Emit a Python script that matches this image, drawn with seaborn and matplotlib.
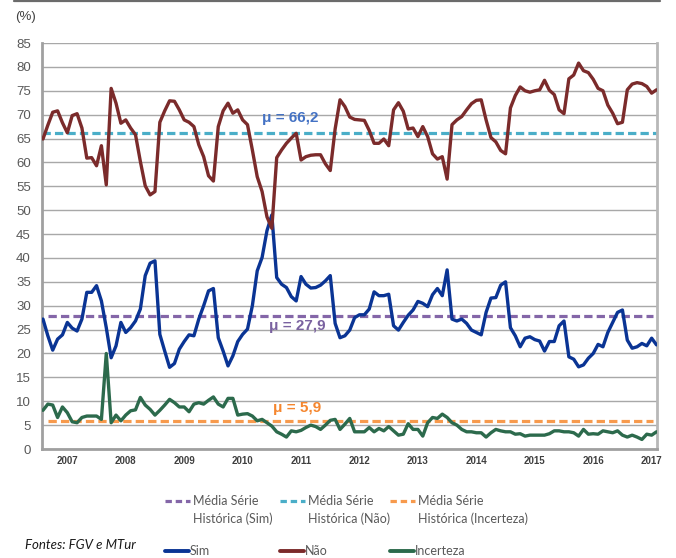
import numpy as np
import pandas as pd
import matplotlib
matplotlib.use("Agg")
import matplotlib.pyplot as plt
from matplotlib.lines import Line2D
import seaborn as sns

# monthly survey answers (%), Jan 2007 onwards
sim = [27.2, 23.7, 20.7, 23.0, 23.9, 26.5, 25.3, 24.7, 27.2, 32.8,
       32.8, 34.2, 31.0, 25.4, 19.1, 21.6, 26.5, 24.4, 25.4, 26.8,
       29.3, 36.3, 38.9, 39.4, 24.0, 20.5, 17.1, 17.9, 20.9, 22.5,
       23.9, 23.7, 27.2, 30.0, 33.1, 33.6, 23.3, 20.5, 17.4, 19.5,
       22.5, 24.0, 25.1, 30.0, 37.3, 40.1, 45.7, 49.0, 35.9, 34.5,
       33.8, 31.9, 31.0, 36.1, 34.5, 33.7, 33.8, 34.3, 35.2, 36.3,
       26.3, 23.3, 23.7, 24.9, 27.5, 28.1, 28.1, 29.3, 32.9, 32.1,
       32.1, 32.4, 25.8, 24.9, 26.5, 28.0, 29.1, 30.9, 30.5, 29.8,
       32.3, 33.6, 32.1, 37.5, 27.2, 26.8, 27.2, 26.3, 24.9, 24.4,
       23.9, 28.6, 31.6, 31.7, 34.3, 35.0, 25.4, 23.7, 21.4, 23.2,
       23.5, 22.9, 22.6, 20.5, 22.5, 22.5, 25.8, 26.8, 19.3, 18.8,
       17.2, 17.6, 19.0, 20.0, 21.9, 21.4, 24.4, 26.5, 28.6, 29.1,
       22.8, 21.1, 21.4, 22.1, 21.6, 23.2, 21.8]
nao = [64.9, 67.8, 70.5, 70.8, 68.3, 66.2, 69.8, 70.2, 67.2, 60.9,
       61.0, 59.3, 63.5, 55.3, 75.5, 72.4, 68.2, 68.9, 67.2, 65.8,
       60.2, 55.1, 53.2, 53.9, 68.4, 70.8, 72.9, 72.8, 71.0, 68.9,
       68.4, 67.5, 63.7, 61.2, 57.2, 56.1, 67.5, 70.8, 72.4, 70.3,
       71.0, 68.9, 67.9, 62.6, 57.0, 53.9, 48.6, 46.2, 61.0, 62.6,
       64.0, 65.1, 66.1, 60.5, 61.2, 61.5, 61.6, 61.6, 59.7, 58.3,
       67.0, 73.1, 71.7, 69.5, 69.0, 68.9, 68.8, 66.7, 64.0, 64.0,
       64.9, 63.5, 71.0, 72.5, 70.7, 67.0, 67.2, 65.4, 67.5, 65.4,
       61.8, 60.7, 61.2, 56.5, 67.9, 68.9, 69.6, 71.0, 72.3, 73.0,
       73.1, 68.9, 65.2, 64.3, 62.5, 61.8, 71.4, 74.0, 75.8, 75.0,
       74.7, 75.0, 75.2, 77.2, 75.1, 74.2, 71.0, 70.2, 77.5, 78.3,
       80.8, 79.2, 78.8, 77.4, 75.5, 75.0, 72.0, 70.3, 68.1, 68.4,
       75.2, 76.4, 76.7, 76.5, 75.9, 74.5, 75.2]
incerteza = [8.1, 9.4, 9.2, 6.6, 8.8, 7.6, 5.7, 5.5, 6.6, 6.9,
             6.9, 6.9, 6.2, 20.0, 5.5, 7.1, 5.9, 7.1, 8.0, 8.2,
             10.8, 9.2, 8.3, 7.1, 8.1, 9.2, 10.4, 9.7, 8.8, 8.8,
             7.8, 9.4, 9.7, 9.4, 10.2, 10.9, 9.4, 8.8, 10.6, 10.6,
             7.1, 7.3, 7.4, 6.9, 5.9, 6.2, 5.5, 4.8, 3.6, 3.1,
             2.5, 3.8, 3.6, 3.9, 4.5, 5.0, 4.7, 4.1, 5.0, 6.0,
             6.2, 4.1, 5.2, 6.4, 3.6, 3.6, 3.6, 4.5, 3.6, 4.3,
             3.8, 4.7, 3.8, 2.9, 3.1, 5.3, 4.1, 4.1, 2.7, 5.5,
             6.6, 6.4, 7.3, 6.6, 5.5, 5.0, 4.1, 3.6, 3.6, 3.4,
             3.4, 2.5, 3.4, 4.1, 3.8, 3.6, 3.6, 3.1, 3.2, 2.7,
             2.9, 2.9, 2.9, 2.9, 3.2, 3.8, 3.8, 3.6, 3.6, 3.4,
             2.7, 4.1, 3.1, 3.2, 3.1, 3.8, 3.6, 3.4, 3.8, 2.9,
             2.5, 2.9, 2.5, 2.0, 3.1, 2.9, 3.6]
years = ["2007", "2008", "2009", "2010", "2011", "2012", "2013", "2014", "2015", "2016", "2017"]
mean_sim, mean_nao, mean_inc = 27.9, 66.2, 5.9

df = pd.DataFrame({"mes": np.arange(len(sim)), "Sim": sim, "Não": nao, "Incerteza": incerteza})

c_sim, c_nao, c_inc = "#0a3494", "#7b2b2b", "#2c6a4c"
c_msim, c_mnao, c_minc = "#8466a8", "#4aaec8", "#f79a4d"

sns.set_theme(style="whitegrid")
plt.rcParams['font.family'] = ['Liberation Sans', 'DejaVu Sans']

fig = plt.figure(figsize=(6.76, 5.58), dpi=100)
ax = fig.add_axes([42/676, 1 - 449/558, 615/676, 406/558])

dash = (2.6, 1.3)
n = len(sim)
ax.hlines(mean_nao, -0.2, n - 0.9, color=c_mnao, lw=2.3, linestyles=[(0, dash)], zorder=2)
ax.hlines(mean_sim, 1.0, n - 1.7, color=c_msim, lw=2.3, linestyles=[(0, dash)], zorder=2)
ax.hlines(mean_inc, 1.0, n - 1.7, color=c_minc, lw=2.3, linestyles=[(0, dash)], zorder=2)

sns.lineplot(data=df, x="mes", y="Incerteza", color=c_inc, lw=2.4, ax=ax, zorder=3)
sns.lineplot(data=df, x="mes", y="Sim", color=c_sim, lw=2.4, ax=ax, zorder=4)
sns.lineplot(data=df, x="mes", y="Não", color=c_nao, lw=2.4, ax=ax, zorder=5)

ax.text(50.8, 69.3, "μ = 66,2", color="#4472c4", fontsize=11, fontweight="bold", ha="center", va="center", zorder=6)
ax.text(52.2, 25.7, "μ = 27,9", color="#7a62a0", fontsize=11, fontweight="bold", ha="center", va="center", zorder=6)
ax.text(52.2, 8.6, "μ = 5,9", color="#f5862e", fontsize=11, fontweight="bold", ha="center", va="center", zorder=6)

ax.set_xlim(-0.2, n - 0.9)
ax.set_ylim(0, 85)
ax.set_yticks(np.arange(0, 86, 5))
ax.set_xticks(np.arange(len(years)) * 12 + 5)
ax.set_xticklabels(years, fontsize=7, fontweight="bold", color="#404040")
ax.tick_params(axis="y", labelsize=9.5, labelcolor="#595959", pad=8, length=0)
ax.tick_params(axis="x", pad=5, length=0)
ax.set_xlabel("")
ax.set_ylabel("")
ax.set_facecolor("white")
ax.grid(axis="x", visible=False)
ax.grid(axis="y", color="#a8a8a8", lw=1.0)
for s in ["left", "bottom"]:
    ax.spines[s].set_color("#a0a0a0")
    ax.spines[s].set_linewidth(2.0)
ax.spines["right"].set_color("#b8b8b8")
ax.spines["right"].set_linewidth(2.0)
ax.spines["top"].set_visible(False)

fig.add_artist(Line2D([14/676, 660/676], [1 - 1/558, 1 - 1/558], color="#6b6b6b", lw=1.6))
fig.text(15/676, 1 - 17/558, "(%)", fontsize=9.5, color="#404040", va="center", ha="left")

# legend built by hand, two rows
leg_font = ['Lato', 'DejaVu Sans']
rows_y1 = 1 - 501/558
rows_y1b = 1 - 519/558
rows_y2 = 1 - 551/558
cols = [(165, 190, "Histórica (Sim)", c_msim, c_sim, "Sim"),
        (280, 305, "Histórica (Não)", c_mnao, c_nao, "Não"),
        (390, 415, "Histórica (Incerteza)", c_minc, c_inc, "Incerteza")]
for x0, x1, lab2, cm, cl, lab in cols:
    fig.add_artist(Line2D([x0/676, x1/676], [rows_y1, rows_y1], color=cm, lw=2.3, linestyle=(0, (2.0, 1.2))))
    fig.text((x1 + 3)/676, rows_y1, "Média Série", fontsize=9, color="#595959", va="center", family=leg_font)
    fig.text((x1 + 3)/676, rows_y1b, lab2, fontsize=9, color="#595959", va="center", family=leg_font)
    fig.add_artist(Line2D([x0/676, (x1 - 1)/676], [rows_y2, rows_y2], color=cl, lw=2.8, solid_capstyle="round"))
    fig.text((x1)/676, rows_y2, lab, fontsize=9, color="#595959", va="center", family=leg_font)

fig.text(25/676, 1 - 545/558, "Fontes: FGV e MTur", fontsize=9.5, style="italic", color="#1a1a1a", va="center", family=leg_font)

plt.savefig("out.png", dpi=100)
